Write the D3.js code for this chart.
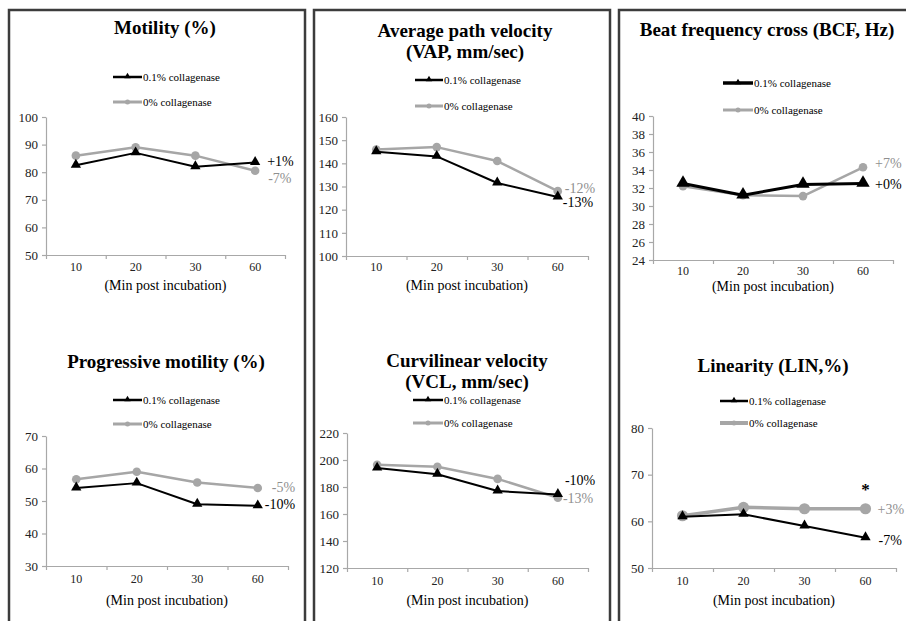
<!DOCTYPE html>
<html>
<head>
<meta charset="utf-8">
<script src="https://cdn.jsdelivr.net/npm/d3@7"></script>
<style>
  body { margin: 0; background: #fff; }
  svg { display: block; }
  text { font-family: "Liberation Serif", "Tinos", "Times New Roman", "DejaVu Serif", serif; }
</style>
</head>
<body>
<div id="chart"></div>
<script>
// ---- data ----
var categories = ["10", "20", "30", "60"];
var seriesNames = ["0.1% collagenase", "0% collagenase"];

var motility01 = [82.5, 87, 82, 83.5];
var motility0  = [86, 89, 86, 80.5];
var vap01 = [145, 143, 131.5, 125.5];
var vap0  = [146, 147, 141, 128];
var bcf01 = [32.5, 31.2, 32.4, 32.5];
var bcf0  = [32.2, 31.2, 31.1, 34.3];
var progMot01 = [54, 55.5, 49, 48.5];
var progMot0  = [56.7, 59, 55.7, 54];
var vcl01 = [194, 189.5, 177, 174.5];
var vcl0  = [196.5, 195, 186, 172];
var lin01 = [61, 61.5, 59, 56.5];
var lin0  = [61.2, 63, 62.7, 62.7];

var motilityTicks = [50, 60, 70, 80, 90, 100];
var vapTicks = [100, 110, 120, 130, 140, 150, 160];
var bcfTicks = [24, 26, 28, 30, 32, 34, 36, 38, 40];
var progMotTicks = [30, 40, 50, 60, 70];
var vclTicks = [120, 140, 160, 180, 200, 220];
var linTicks = [50, 60, 70, 80];

var titles = [
  ["Motility (%)"],
  ["Average path velocity", "(VAP, mm/sec)"],
  ["Beat frequency cross (BCF, Hz)"],
  ["Progressive motility (%)"],
  ["Curvilinear velocity", "(VCL, mm/sec)"],
  ["Linearity (LIN,%)"]
];
// change labels at the last point: [0.1% label, 0% label]
var changeLabels = [
  ["+1%", "-7%"],
  ["-13%", "-12%"],
  ["+0%", "+7%"],
  ["-10%", "-5%"],
  ["-10%", "-13%"],
  ["-7%", "+3%"]
];
var xTitle = "(Min post incubation)";

// ---- layout (positions and styles) ----
var BLACK = "#000", GRAY = "#a6a6a6", GRAYTXT = "#8f8f8f";
var SERIF = "'Liberation Serif', 'Tinos', 'Times New Roman', 'DejaVu Serif', serif";

var panels = [
  {s01: motility01, s0: motility0, ticks: motilityTicks,
   l: 46, r: 285, t: 117, b: 255, titleX: 165, titleY: [34], leg: [77, 102], legX: [113, 142],
   xlabY: 272, xtitY: 290, lab: [[12, 3], [13, 12]], w: [2, 2.5], m: [1, 1]},
  {s01: vap01, s0: vap0, ticks: vapTicks,
   l: 346, r: 588, t: 117, b: 256, titleX: 465, titleY: [37, 58], leg: [80, 106], legX: [415, 443],
   xlabY: 272, xtitY: 290, lab: [[5, 10], [7, 2]], w: [2, 2.5], m: [1, 1]},
  {s01: bcf01, s0: bcf0, ticks: bcfTicks,
   l: 653, r: 893, t: 116, b: 260, titleX: 767, titleY: [36], leg: [83, 110], legX: [723, 753],
   xlabY: 276, xtitY: 291, lab: [[12, 5], [12, 1]], w: [3, 2.5], m: [1.3, 1]},
  {s01: progMot01, s0: progMot0, ticks: progMotTicks,
   l: 46, r: 288, t: 436, b: 566, titleX: 166, titleY: [368], leg: [400, 424], legX: [113, 142],
   xlabY: 584, xtitY: 605, lab: [[7, 3], [14, 4]], w: [2, 2.5], m: [1, 1]},
  {s01: vcl01, s0: vcl0, ticks: vclTicks,
   l: 347, r: 588, t: 433, b: 568, titleX: 467, titleY: [367, 388], leg: [400, 423], legX: [413, 443],
   xlabY: 586, xtitY: 605, lab: [[7, -9], [5, 5]], w: [2, 2.5], m: [1, 1]},
  {s01: lin01, s0: lin0, ticks: linTicks,
   l: 652, r: 896, t: 428, b: 568, titleX: 773, titleY: [372], leg: [401, 423], legX: [720, 748],
   xlabY: 586, xtitY: 605, lab: [[13, 7], [12, 5]], w: [2, 3.5], m: [1, 1.3], star: true}
];

var boxes = [[9, 305], [314, 610], [619, 915]];

var svg = d3.select("#chart").append("svg")
    .attr("width", 906).attr("height", 621)
    .style("font-family", SERIF);

svg.selectAll("rect.box").data(boxes).enter().append("rect")
    .attr("class", "box")
    .attr("x", function(d) { return d[0]; })
    .attr("y", 10)
    .attr("width", function(d) { return d[1] - d[0]; })
    .attr("height", 700)
    .attr("fill", "none")
    .attr("stroke", "#3c3c3c")
    .attr("stroke-width", 2.5);

var triangle = d3.symbol().type(d3.symbolTriangle);

panels.forEach(function(p, i) {
  var g = svg.append("g");

  var x = d3.scaleBand().domain(categories).range([p.l, p.r]).padding(0);
  var xb = d3.scaleLinear().domain([0, 4]).range([p.l, p.r]);
  var ext = d3.extent(p.ticks);
  var y = d3.scaleLinear().domain(ext).range([p.b, p.t]);
  var cx = function(d, j) { return x(categories[j]) + x.bandwidth() / 2; };

  // titles
  titles[i].forEach(function(t, k) {
    g.append("text")
      .attr("x", p.titleX).attr("y", p.titleY[k])
      .attr("text-anchor", "middle")
      .style("font-family", SERIF)
      .style("font-size", "19px").style("font-weight", "bold")
      .text(t);
  });

  // legend
  [[BLACK, "tri"], [GRAY, "dot"]].forEach(function(s, k) {
    var ly = p.leg[k];
    g.append("line")
      .attr("x1", p.legX[0]).attr("x2", p.legX[1])
      .attr("y1", ly).attr("y2", ly)
      .attr("stroke", s[0]).attr("stroke-width", p.w[k] + 0.5);
    var mx = (p.legX[0] + p.legX[1]) / 2;
    if (s[1] === "tri") {
      g.append("path").attr("d", triangle.size(18)())
        .attr("transform", "translate(" + mx + "," + (ly - 0.5) + ")")
        .attr("fill", BLACK);
    } else {
      g.append("circle").attr("cx", mx).attr("cy", ly).attr("r", 2.5).attr("fill", GRAY);
    }
    g.append("text")
      .attr("x", p.legX[1] + 1).attr("y", ly + 4)
      .style("font-family", SERIF)
      .style("font-size", "11px")
      .text(seriesNames[k]);
  });

  // y axis
  var yAxis = g.append("g")
    .attr("transform", "translate(" + p.l + ",0)")
    .call(d3.axisLeft(y).tickValues(p.ticks).tickSize(4).tickPadding(4).tickSizeOuter(0));
  // x axis: boundary ticks + centred labels
  var xAxisTicks = g.append("g")
    .attr("transform", "translate(0," + p.b + ")")
    .call(d3.axisBottom(xb).tickValues([0, 1, 2, 3, 4]).tickSize(4).tickFormat("").tickSizeOuter(0));
  var xAxisLab = g.append("g")
    .attr("transform", "translate(0," + p.b + ")")
    .call(d3.axisBottom(x).tickSize(0).tickPadding(p.xlabY - p.b - 10));
  xAxisLab.select(".domain").remove();

  [yAxis, xAxisTicks, xAxisLab].forEach(function(a) {
    a.attr("font-family", SERIF);
    a.select(".domain").attr("stroke", "#a8a8a8").attr("stroke-width", 1.2);
    a.selectAll(".tick line").attr("stroke", "#a8a8a8").attr("stroke-width", 1.2);
  });
  yAxis.selectAll(".tick text")
    .style("font-size", "13px").style("font-family", SERIF).attr("fill", "#222");
  xAxisLab.selectAll(".tick text")
    .style("font-size", "12px").style("font-family", SERIF).attr("fill", "#222");

  g.append("text")
    .attr("x", (p.l + p.r) / 2).attr("y", p.xtitY)
    .attr("text-anchor", "middle")
    .style("font-family", SERIF)
    .style("font-size", "14px")
    .text(xTitle);

  // lines
  var line = d3.line().x(cx).y(function(d) { return y(d); });
  var seriesList = [p.s01, p.s0];
  var colors = [BLACK, GRAY];
  // gray drawn first so black sits on top
  [1, 0].forEach(function(k) {
    g.append("path").datum(seriesList[k])
      .attr("d", line)
      .attr("fill", "none")
      .attr("stroke", colors[k])
      .attr("stroke-width", p.w[k])
      .attr("stroke-linejoin", "round");
    if (k === 0) {
      g.selectAll("path.tri" + i).data(seriesList[k]).enter().append("path")
        .attr("class", "tri" + i)
        .attr("d", triangle.size(46 * p.m[k] * p.m[k])())
        .attr("transform", function(d, j) { return "translate(" + cx(d, j) + "," + (y(d) - 0.5) + ")"; })
        .attr("fill", BLACK);
    } else {
      g.selectAll("circle.dot" + i).data(seriesList[k]).enter().append("circle")
        .attr("class", "dot" + i)
        .attr("cx", cx).attr("cy", function(d) { return y(d); })
        .attr("r", 4.3 * p.m[k])
        .attr("fill", GRAY);
    }
  });

  // change labels next to the last point
  var lastX = cx(null, 3);
  seriesList.forEach(function(s, k) {
    g.append("text")
      .attr("x", lastX + p.lab[k][0])
      .attr("y", y(s[3]) + p.lab[k][1])
      .style("font-family", SERIF)
      .style("font-size", "14px")
      .attr("fill", k === 0 ? BLACK : GRAYTXT)
      .text(changeLabels[i][k]);
  });
  if (p.star) {
    g.append("text")
      .attr("x", lastX).attr("y", y(p.s0[3]) - 14)
      .attr("text-anchor", "middle")
      .style("font-family", SERIF)
      .style("font-size", "17px").style("font-weight", "bold")
      .text("*");
  }
});
</script>
</body>
</html>
